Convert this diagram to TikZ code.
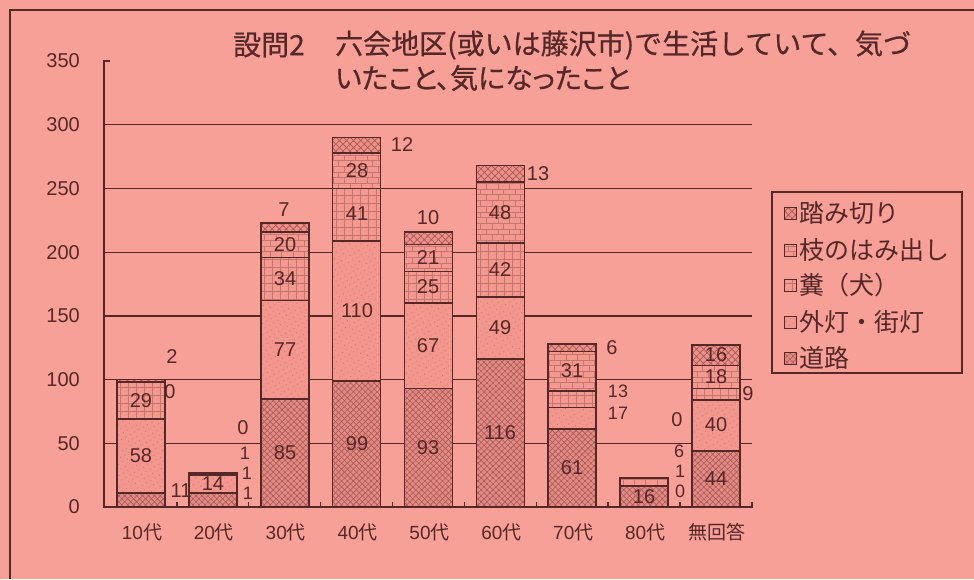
\documentclass[tikz,border=0pt]{standalone}
\usepackage{fontspec}
\setmainfont{Liberation Sans}
\newfontfamily\jp[RawFeature=+palt,FakeBold=0.6]{Noto Sans CJK JP}
\newfontfamily\jpb[FakeBold=0.6]{Noto Sans CJK JP}
\newfontfamily\jpm{Noto Sans CJK JP}
\usetikzlibrary{patterns,patterns.meta}
\definecolor{bg}{HTML}{F7A098}
\definecolor{ink}{HTML}{552828}
\definecolor{patd}{HTML}{A85A56}
\definecolor{patl}{HTML}{C27870}
\tikzset{
  frame/.style={draw=ink, line width=1.4pt},
  gridl/.style={draw=ink, line width=1.3pt},
  barline/.style={draw=ink, line width=1.6pt},
  num/.style={font=\fontsize{20}{20}\selectfont, text=ink, inner sep=0pt},
  smallnum/.style={font=\fontsize{18}{18}\selectfont, text=ink, inner sep=0pt},
  cat/.style={font=\fontsize{19}{19}\selectfont, text=ink, inner sep=0pt},
  leg/.style={font=\jpm\fontsize{25}{25}\selectfont, text=ink, inner sep=0pt, anchor=west},
  ttl/.style={font=\jp\fontsize{28}{28}\selectfont, text=ink, inner sep=0pt, anchor=west},
  ttlw/.style={font=\jpb\fontsize{28}{28}\selectfont, text=ink, inner sep=0pt, anchor=west},
  road/.style={fill={rgb,255:red,228;green,138;blue,132}, postaction={pattern={Hatch[angle=45,distance=4.2pt,line width=0.6pt]}, pattern color=patd}},
  lamp/.style={fill={rgb,255:red,243;green,150;blue,142}, postaction={pattern={Dots[distance=5pt,radius=0.55pt,angle=30]}, pattern color=patl}},
  dung/.style={fill={rgb,255:red,245;green,152;blue,144}, postaction={pattern={Hatch[angle=0,distance=8pt,line width=0.5pt]}, pattern color=patl}},
  branch/.style={fill={rgb,255:red,245;green,152;blue,144}, postaction={pattern=bricks, pattern color=patl}},
  crossing/.style={fill={rgb,255:red,236;green,144;blue,137}, postaction={pattern={Hatch[angle=45,distance=5pt,line width=0.7pt]}, pattern color=patd}},
}
\begin{document}
\begin{tikzpicture}[x=1pt,y=-1pt]
\fill[bg] (0,0) rectangle (974,579);
\useasboundingbox (0,0) rectangle (974,579);
% outer frame
\draw[frame] (10,579) -- (10,10) -- (974,10);
% grid lines
\foreach \v in {50,100,...,300}
  \draw[gridl] (104,{507-1.274*\v}) -- (752,{507-1.274*\v});
\draw[gridl] (110,61) -- (104,61) -- (104,507) -- (753,507);
\foreach \k in {1,...,9}
  \draw[gridl] ({105+71.875*\k},507) -- ++(0,-5);
% axis labels
\foreach \v in {0,50,...,350}
  \node[num, anchor=east] (ax\v) at (80,{507-1.274*\v}) {\v};
% bars
\foreach \k/\a/\b/\c/\d/\e in {0/11/58/29/0/2, 1/11/14/1/1/0, 2/85/77/34/20/7, 3/99/110/41/28/12, 4/93/67/25/21/10, 5/116/49/42/48/13, 6/61/17/13/31/6, 7/16/0/1/6/0, 8/44/40/9/18/16}{
  \pgfmathsetmacro\xl{141+71.875*\k-24}
  \pgfmathsetmacro\xr{\xl+48}
  \pgfmathsetmacro\ya{507-1.274*\a}
  \pgfmathsetmacro\yb{\ya-1.274*\b}
  \pgfmathsetmacro\yc{\yb-1.274*\c}
  \pgfmathsetmacro\yd{\yc-1.274*\d}
  \pgfmathsetmacro\ye{\yd-1.274*\e}
  \path[road] (\xl,507) rectangle (\xr,\ya);
  \path[lamp] (\xl,\ya) rectangle (\xr,\yb);
  \path[dung] (\xl,\yb) rectangle (\xr,\yc);
  \path[branch] (\xl,\yc) rectangle (\xr,\yd);
  \path[crossing] (\xl,\yd) rectangle (\xr,\ye);
  \draw[barline] (\xl,\ya) -- (\xr,\ya) (\xl,\yb) -- (\xr,\yb)
                 (\xl,\yc) -- (\xr,\yc) (\xl,\yd) -- (\xr,\yd);
  \draw[barline] (\xl,507) rectangle (\xr,\ye);
}
% labels inside bars
\foreach \x/\y/\t [count=\i] in {141/456/58, 141/401/29, 213/484/14,
  285/453/85, 285/350/77, 285/279/34, 285/245/20,
  357/444/99, 357/311/110, 357/214/41, 357/171/28,
  428/448/93, 428/346/67, 428/287/25, 428/258/21,
  500/433/116, 500/328/49, 500/270/42, 500/213/48,
  572/468/61, 572/371/31, 644/497/16,
  716/479/44, 716/425/40, 716/377/18, 716/355/16}
  \node[num] (in\i) at (\x,\y) {\t};
% labels beside bars
\foreach \x/\y/\t [count=\i] in {172/357/2, 170/392/0, 181/491/11,
  243/428/0, 284/210/7, 402/145/12, 428/218/10, 538/174/13,
  612/348/6, 677/420/0, 748/394/9}
  \node[num] (out\i) at (\x,\y) {\t};
% crowded labels beside bars
\foreach \x/\y/\t [count=\i] in {245/453/1, 247/473/1, 248/493/1,
  618/391/13, 618/413/17,
  679/451/6, 680/471/1, 680/491/0}
  \node[smallnum] (sm\i) at (\x,\y) {\t};
% category labels
\foreach \k/\t [count=\i] in {0/10, 1/20, 2/30, 3/40, 4/50, 5/60, 6/70, 7/80}
  \node[cat] (cat\i) at ({142+71.875*\k},532) {\t{\jpm 代}};
\node[cat, font=\jpm\fontsize{19}{19}\selectfont] (cat9) at (717,532) {無回答};
% title
\node[ttlw] (t1) at (233,45) {設問2};
\node[ttlw] (t2) at (335,45) {六会地区(或いは藤沢市)で生活していて、気づ};
\node[ttl] (t3) at (335,78) {いたこと、気になったこと};
% legend
\draw[barline, line width=1.4pt] (772,192) rectangle (962,373);
\foreach \y/\s/\t [count=\i] in {213/crossing/踏み切り, 250/branch/枝のはみ出し, 285/dung/糞（犬）, 322/lamp/外灯・街灯, 358/road/道路}{
  \path[\s] (784,{\y-6}) rectangle (796,{\y+6});
  \draw[draw=ink, line width=1pt] (784,{\y-6}) rectangle (796,{\y+6});
  \node[leg] (lg\i) at (799,\y) {\t};
}
\end{tikzpicture}
\end{document}
